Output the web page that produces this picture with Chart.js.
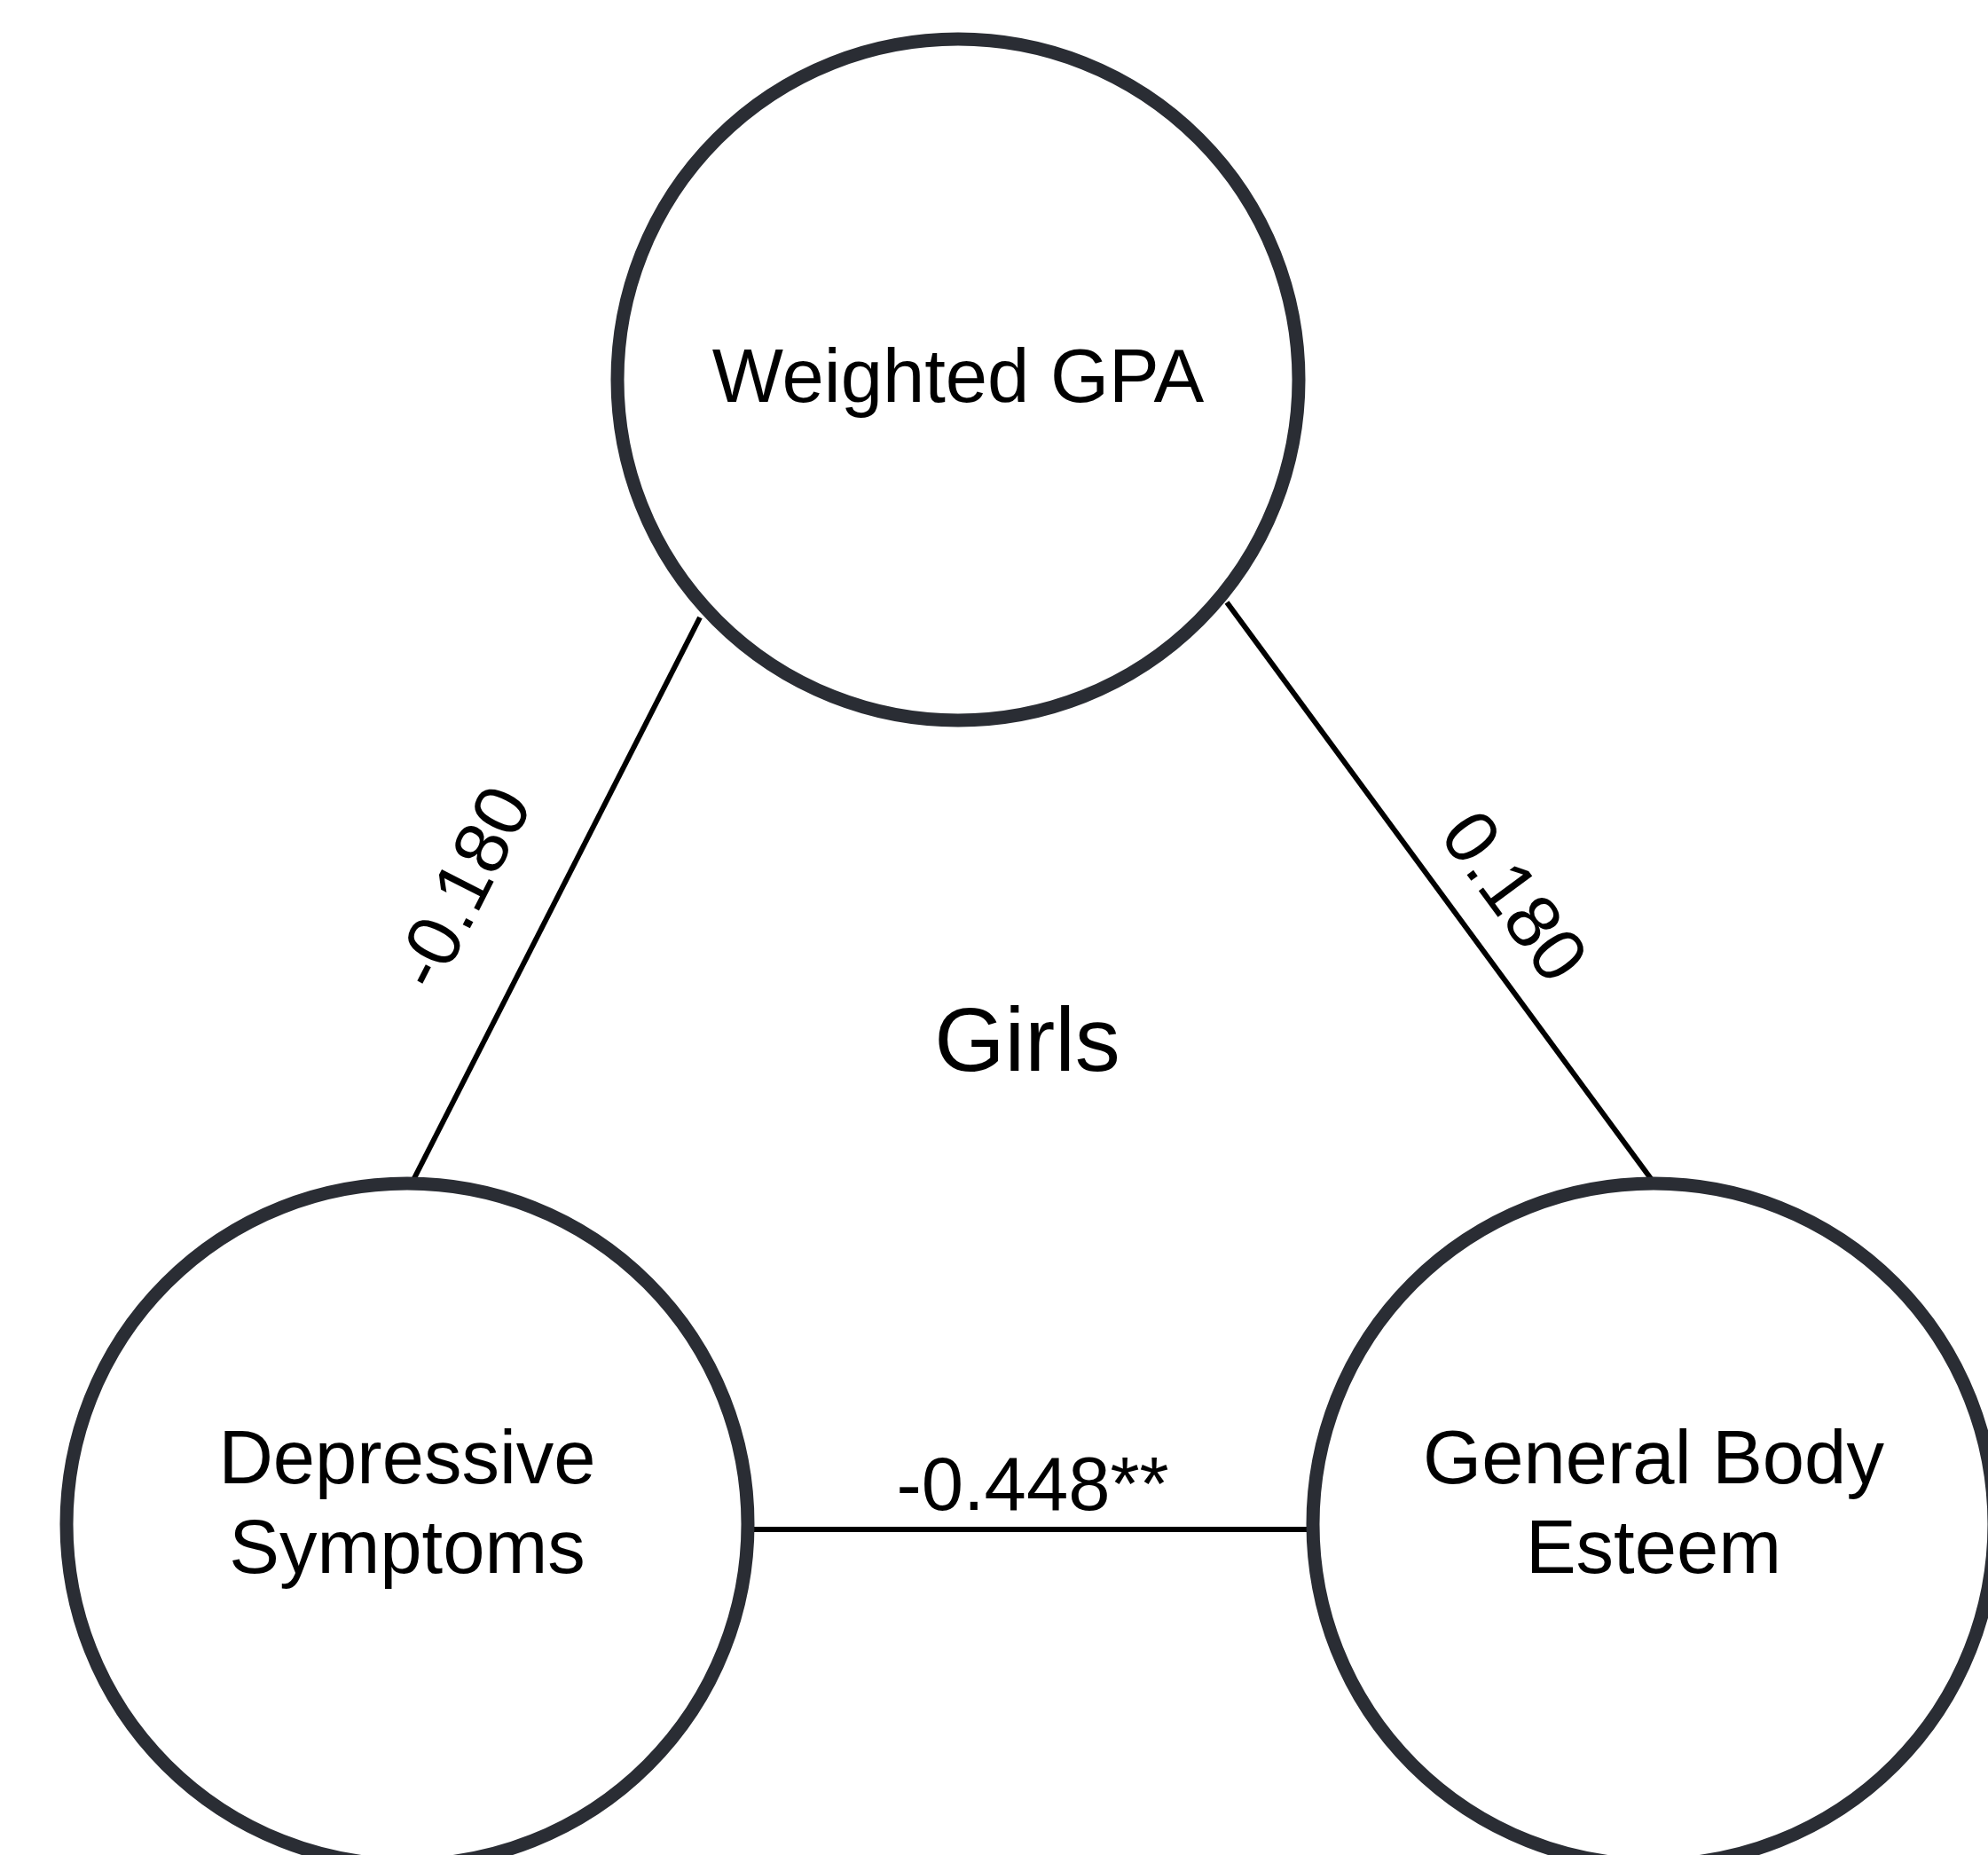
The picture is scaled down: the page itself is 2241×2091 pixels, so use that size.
<!DOCTYPE html>
<html>
<head>
<meta charset="utf-8">
<script src="https://cdn.jsdelivr.net/npm/chart.js@4/dist/chart.umd.min.js"></script>
<style>
  html, body { margin: 0; padding: 0; background: #fff; }
  canvas { display: block; }
</style>
</head>
<body>
<canvas id="diagram" width="2241" height="2091"></canvas>
<script>
// variables (the three circles), in diagram units
const nodeNames = [['Weighted GPA'], ['Depressive', 'Symptoms'], ['General Body', 'Esteem']];
const nodeX = [1080, 459, 1864];
const nodeY = [428, 1718, 1718];

// correlations between the variables
const edgeLabels = ['-0.180', '0.180', '-0.448**'];
const edgeFromX = [789, 1383, 846];
const edgeFromY = [696, 679, 1724];
const edgeToX = [466, 1862, 1476];
const edgeToY = [1330, 1330, 1724];

const groupLabel = 'Girls';
const groupX = 1158;
const groupY = 1207;

// styling
const FONT = '"Liberation Sans", Arial, sans-serif';
const CIRCLE_COLOR = '#2a2d34';
const nodeLabelShift = [25, -46, -46];   // first baseline relative to circle centre
const edgeLabelAlong = [37, 55, 3];      // shift of label along the edge
const edgeLabelGap = [72, 36, 22];       // baseline distance from the edge

const labelPlugin = {
  id: 'diagramLabels',
  afterDatasetsDraw(chart) {
    const { ctx, scales: { x, y } } = chart;
    ctx.save();
    ctx.fillStyle = '#000';
    ctx.textAlign = 'center';
    ctx.textBaseline = 'alphabetic';

    ctx.font = `85px ${FONT}`;
    nodeNames.forEach((lines, i) => {
      const px = x.getPixelForValue(nodeX[i]);
      const py = y.getPixelForValue(nodeY[i]) + nodeLabelShift[i];
      lines.forEach((t, k) => ctx.fillText(t, px, py + k * 101));
    });

    edgeLabels.forEach((t, i) => {
      const x1 = x.getPixelForValue(edgeFromX[i]), y1 = y.getPixelForValue(edgeFromY[i]);
      const x2 = x.getPixelForValue(edgeToX[i]), y2 = y.getPixelForValue(edgeToY[i]);
      const len = Math.hypot(x2 - x1, y2 - y1);
      const ux = (x2 - x1) / len, uy = (y2 - y1) / len;
      let a = Math.atan2(y2 - y1, x2 - x1);
      if (a > Math.PI / 2) a -= Math.PI;
      else if (a < -Math.PI / 2) a += Math.PI;
      ctx.save();
      ctx.translate((x1 + x2) / 2 + ux * edgeLabelAlong[i], (y1 + y2) / 2 + uy * edgeLabelAlong[i]);
      ctx.rotate(a);
      ctx.fillText(t, 0, -edgeLabelGap[i]);
      ctx.restore();
    });

    ctx.font = `102px ${FONT}`;
    ctx.fillText(groupLabel, x.getPixelForValue(groupX), y.getPixelForValue(groupY));
    ctx.restore();
  }
};

const edgeSets = edgeLabels.map((lab, i) => ({
  label: lab,
  data: [{ x: edgeFromX[i], y: edgeFromY[i] }, { x: edgeToX[i], y: edgeToY[i] }],
  showLine: true,
  borderColor: '#000',
  borderWidth: 6,
  pointRadius: 0,
  clip: false,
  order: 2
}));

const nodeSet = {
  label: 'variables',
  data: nodeX.map((v, i) => ({ x: v, y: nodeY[i] })),
  pointRadius: 384,
  pointHoverRadius: 384,
  borderWidth: 15,
  borderColor: CIRCLE_COLOR,
  backgroundColor: 'rgba(0,0,0,0)',
  clip: false,
  order: 1
};

new Chart(document.getElementById('diagram').getContext('2d'), {
  type: 'scatter',
  data: { datasets: [...edgeSets, nodeSet] },
  options: {
    responsive: false,
    animation: false,
    events: [],
    layout: { padding: 0, autoPadding: false },
    scales: {
      x: { type: 'linear', min: 0, max: 2241, display: false },
      y: { type: 'linear', min: 0, max: 2091, reverse: true, display: false }
    },
    plugins: {
      legend: { display: false },
      tooltip: { enabled: false }
    }
  },
  plugins: [labelPlugin]
});
</script>
</body>
</html>
